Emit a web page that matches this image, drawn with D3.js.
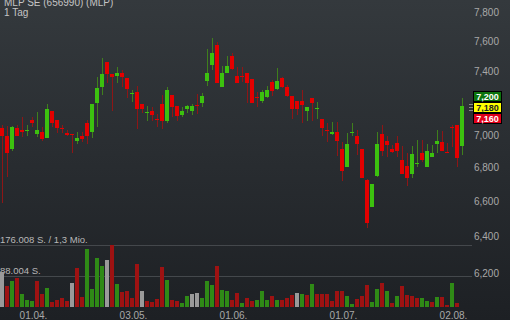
<!DOCTYPE html>
<html>
<head>
<meta charset="utf-8">
<script src="https://cdn.jsdelivr.net/npm/d3@7"></script>
<style>
  html, body { margin: 0; padding: 0; background: #25292d; }
  svg { display: block; font-family: "Liberation Sans", Arial, sans-serif; }
</style>
</head>
<body>
<svg id="chart"></svg>
<script>
// Daily OHLC values (EUR), one entry per trading day
const opens = [7044, 6994, 6915, 7044, 7031, 7022, 7094, 7006, 7019, 6982, 7150, 7094, 7044, 7013, 7006, 6964, 6994, 7075, 7019, 7200,
  7303, 7465, 7387, 7374, 7394, 7361, 7262, 7271, 7194, 7142, 7150, 7102, 7194, 7088, 7252, 7181, 7125, 7163, 7150, 7188,
  7200, 7342, 7445, 7577, 7303, 7394, 7505, 7374, 7376, 7394, 7355, 7241, 7213, 7239, 7335, 7290, 7361, 7303, 7245, 7213,
  7213, 7150, 7232, 7167, 7100, 7033, 7006, 7019, 6915, 6806, 7017, 6994, 6915, 6729, 6571, 6753, 7006, 6964, 6915, 6952,
  6848, 6812, 6765, 6828, 6891, 6806, 6867, 6945, 6958, 6899, 7052, 7063, 6933];
const highs = [7063, 7056, 7056, 7063, 7113, 7063, 7113, 7144, 7050, 7194, 7150, 7094, 7063, 7031, 7006, 7019, 7019, 7094, 7194, 7368,
  7491, 7465, 7387, 7432, 7413, 7361, 7284, 7310, 7194, 7181, 7175, 7131, 7252, 7303, 7252, 7181, 7175, 7188, 7194, 7258,
  7265, 7551, 7623, 7597, 7439, 7505, 7524, 7432, 7432, 7394, 7355, 7271, 7284, 7310, 7348, 7426, 7368, 7316, 7245, 7213,
  7284, 7175, 7232, 7206, 7100, 7075, 7081, 7081, 6958, 7013, 7075, 7031, 6915, 6735, 6706, 7019, 7063, 6994, 6939, 6994,
  6933, 6891, 6933, 6970, 6970, 6945, 6939, 7031, 7025, 6952, 7063, 7063, 7232];
const lows = [6594, 6747, 6903, 6994, 6988, 6994, 7050, 6988, 6964, 6982, 7050, 7013, 7013, 6994, 6891, 6945, 6958, 6945, 6982, 7050,
  7252, 7329, 7150, 7329, 7303, 7232, 7206, 7038, 7138, 7088, 7088, 7050, 7038, 7075, 7113, 7088, 7113, 7138, 7125, 7131,
  7175, 7310, 7413, 7329, 7303, 7394, 7413, 7329, 7335, 7200, 7200, 7175, 7200, 7232, 7245, 7284, 7297, 7239, 7100, 7125,
  7075, 7088, 7088, 7100, 6994, 6958, 7000, 6873, 6723, 6806, 6994, 6879, 6741, 6451, 6571, 6747, 6873, 6867, 6891, 6867,
  6765, 6694, 6741, 6806, 6836, 6806, 6867, 6891, 6903, 6891, 6927, 6806, 6879];
const closes = [6994, 6891, 7050, 6994, 7019, 7028, 7075, 7031, 6976, 7163, 7075, 7044, 7038, 7000, 7000, 6982, 6976, 6994, 7194, 7297,
  7387, 7387, 7368, 7394, 7368, 7290, 7265, 7163, 7163, 7144, 7125, 7100, 7088, 7284, 7175, 7119, 7150, 7181, 7181, 7181,
  7245, 7394, 7524, 7329, 7394, 7439, 7419, 7329, 7372, 7329, 7200, 7236, 7271, 7284, 7277, 7342, 7303, 7245, 7163, 7163,
  7188, 7175, 7200, 7169, 7044, 7031, 7019, 6964, 6782, 6945, 7019, 6945, 6741, 6480, 6706, 6945, 6903, 6939, 6897, 6903,
  6765, 6741, 6885, 6830, 6848, 6903, 6891, 6964, 6903, 6897, 7050, 6861, 7180];

// Daily volume (shares) and its colour: u = up, d = down, n = unchanged
const volumes = [99400, 60800, 75000, 81500, 36000, 19000, 17000, 75000, 36000, 55000, 13300, 21000, 25600, 16000, 68000, 112000, 29500, 165800, 52000, 140000,
  116000, 133000, 175000, 66400, 43700, 44500, 25600, 123000, 46500, 17000, 15300, 21900, 113500, 77800, 21000, 17000, 10500, 30400, 38000, 39700,
  25600, 73800, 63600, 116400, 49400, 44600, 19000, 40900, 11400, 26700, 16200, 21000, 44600, 21000, 31200, 21000, 19000, 25600, 33200, 38900,
  36000, 33200, 64400, 36000, 36000, 38000, 17000, 44600, 44600, 32300, 9600, 23800, 31200, 61600, 14200, 52200, 69300, 45400, 11400, 32300,
  58800, 33200, 30400, 26700, 26700, 17000, 14200, 28400, 28400, 4800, 69300, 11400, 0];
const volDir = ["n", "d", "u", "d", "u", "u", "u", "d", "d", "u", "d", "d", "d", "d", "n", "d", "d", "u", "u", "u",
  "u", "n", "d", "u", "d", "d", "d", "d", "n", "d", "d", "d", "d", "u", "d", "d", "u", "u", "n", "n",
  "u", "u", "u", "d", "u", "u", "d", "d", "u", "d", "d", "u", "u", "u", "d", "u", "d", "d", "d", "n",
  "u", "d", "u", "d", "d", "d", "d", "d", "d", "u", "u", "d", "d", "d", "u", "u", "d", "u", "d", "u",
  "d", "d", "d", "d", "u", "u", "d", "u", "d", "d", "u", "d", "u"];

// Axis labels (7,200 sits under the quote boxes, so it is not drawn)
const dateTickIdx = [6, 26, 46, 68, 90];
const dateTickLabels = ["01.04.", "03.05.", "01.06.", "01.07.", "02.08."];
const priceTicks = [7800, 7600, 7400, 7000, 6800, 6600, 6400, 6200];
const volTicks = [176008, 88004];
const volTickLabels = ["176.008 S. / 1,3 Mio.", "88.004 S."];

// Quote boxes on the right edge
const quoteLabels = ["7,200", "7,180", "7,160"];
const quoteFills = ["#0d740d", "#ffff00", "#e2001a"];
const quoteText = ["#ffffff", "#222222", "#ffffff"];

const W = 510, H = 320;
const fmt = d3.format(",.0f");

const svg = d3.select("#chart").attr("width", W).attr("height", H);

// Background gradient
const grad = svg.append("defs").append("linearGradient")
  .attr("id", "bg").attr("x1", 0).attr("y1", 0).attr("x2", 0).attr("y2", 1);
grad.append("stop").attr("offset", "0%").attr("stop-color", "#34393d");
grad.append("stop").attr("offset", "100%").attr("stop-color", "#1d2024");
svg.append("rect").attr("width", W).attr("height", H).attr("fill", "url(#bg)");

// Scales
const x = d3.scaleLinear().domain([0, opens.length - 1]).range([2, 2 + 5 * (opens.length - 1)]);
const y = d3.scaleLog().domain([6200, 7800]).range([273, 12]);
const yVol = d3.scaleLinear().domain([0, 176008]).range([307, 245]);

// Volume reference lines
svg.append("g")
  .selectAll("line")
  .data(volTicks)
  .join("line")
  .attr("x1", 0)
  .attr("x2", 472)
  .attr("y1", (d) => Math.round(yVol(d)) + 0.5)
  .attr("y2", (d) => Math.round(yVol(d)) + 0.5)
  .attr("stroke", "#44484c")
  .attr("stroke-width", 1);

// Volume labels (drawn under the bars)
svg.append("g")
  .selectAll("text")
  .data(volTicks)
  .join("text")
  .attr("x", 0)
  .attr("y", (d) => yVol(d) - 2)
  .attr("font-size", 9.5)
  .attr("fill", "#b8b8b8")
  .text((d, i) => volTickLabels[i]);

// Volume bars
const volColor = { u: "#2f8a16", d: "#9e1212", n: "#9a9a9a" };
svg.append("g")
  .attr("shape-rendering", "crispEdges")
  .selectAll("rect")
  .data(volumes)
  .join("rect")
  .attr("x", (d, i) => x(i) - 2)
  .attr("width", 4)
  .attr("y", (d) => Math.round(yVol(d)))
  .attr("height", (d) => Math.round(yVol(0)) - Math.round(yVol(d)))
  .attr("fill", (d, i) => volColor[volDir[i]]);

// Candles
const candles = svg.append("g")
  .attr("shape-rendering", "crispEdges")
  .selectAll("g")
  .data(opens)
  .join("g");

candles.append("rect")
  .attr("x", (d, i) => x(i))
  .attr("width", 1)
  .attr("y", (d, i) => Math.round(y(highs[i])))
  .attr("height", (d, i) => Math.max(1, Math.round(y(lows[i])) - Math.round(y(highs[i]))))
  .attr("fill", (d, i) => (closes[i] >= opens[i] ? "#3f7f1c" : "#8e1616"));

candles.append("rect")
  .attr("x", (d, i) => x(i) - 2)
  .attr("width", 4)
  .attr("y", (d, i) => Math.round(y(Math.max(opens[i], closes[i]))))
  .attr("height", (d, i) => Math.max(1, Math.round(y(Math.min(opens[i], closes[i]))) - Math.round(y(Math.max(opens[i], closes[i])))))
  .attr("fill", (d, i) => (closes[i] >= opens[i] ? "#3cc10f" : "#e30000"));

// Price axis labels (right side)
svg.append("g")
  .selectAll("text")
  .data(priceTicks)
  .join("text")
  .attr("x", 499)
  .attr("y", (d) => y(d) + 3.5)
  .attr("text-anchor", "end")
  .attr("font-size", 10)
  .attr("fill", "#a8a8a8")
  .text((d) => fmt(d));

// Date axis labels
svg.append("g")
  .selectAll("text")
  .data(dateTickIdx)
  .join("text")
  .attr("x", (d) => x(d) + 1.5)
  .attr("y", 319)
  .attr("text-anchor", "middle")
  .attr("font-size", 10)
  .attr("fill", "#a8a8a8")
  .text((d, i) => dateTickLabels[i]);

// Small grip icon next to the quote boxes
svg.append("g")
  .selectAll("line")
  .data([0, 1, 2])
  .join("line")
  .attr("x1", 469)
  .attr("x2", 473)
  .attr("y1", (d) => 104.5 + d * 3)
  .attr("y2", (d) => 104.5 + d * 3)
  .attr("stroke", "#8a8a8a");

// Quote boxes, stacked round the last close
const qTop = Math.round(y(closes[closes.length - 1])) - 15;
const quote = svg.append("g")
  .selectAll("g")
  .data(quoteLabels)
  .join("g")
  .attr("transform", (d, i) => `translate(473.5,${qTop + i * 11 + 0.5})`);

quote.append("rect")
  .attr("width", 28)
  .attr("height", 10)
  .attr("fill", (d, i) => quoteFills[i])
  .attr("stroke", "#000");

quote.append("text")
  .attr("x", 14)
  .attr("y", 8.3)
  .attr("text-anchor", "middle")
  .attr("font-size", 9)
  .attr("font-weight", "bold")
  .attr("fill", (d, i) => quoteText[i])
  .text((d) => d);

// Title (cut at the top edge, as in the original)
svg.append("text")
  .attr("x", 4)
  .attr("y", 6)
  .attr("font-size", 10)
  .attr("fill", "#c4c4c4")
  .text("MLP SE (656990) (MLP)");
svg.append("text")
  .attr("x", 4)
  .attr("y", 16)
  .attr("font-size", 10)
  .attr("fill", "#c4c4c4")
  .text("1 Tag");
</script>
</body>
</html>
